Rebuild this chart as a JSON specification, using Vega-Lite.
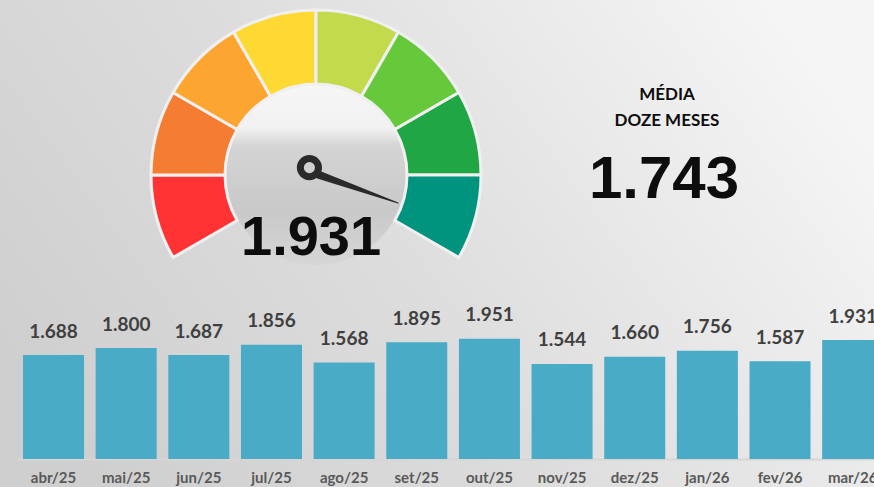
{
  "$schema": "https://vega.github.io/schema/vega-lite/v6.json",
  "width": 874,
  "height": 487,
  "padding": 0,
  "autosize": {"type": "none"},
  "background": "#ececec",
  "view": {
    "stroke": null,
    "fill": {
      "gradient": "linear",
      "x1": 0, "y1": 0.7, "x2": 1, "y2": 0.3,
      "stops": [
        {"offset": 0, "color": "#cfcfcf"},
        {"offset": 0.45, "color": "#dddddd"},
        {"offset": 1, "color": "#f5f5f5"}
      ]
    }
  },
  "config": {
    "locale": {"number": {"decimal": ",", "thousands": ".", "grouping": [3], "currency": ["R$ ", ""]}}
  },
  "datasets": {
    "meses": [
      {"mes": "abr/25", "valor": 1688},
      {"mes": "mai/25", "valor": 1800},
      {"mes": "jun/25", "valor": 1687},
      {"mes": "jul/25", "valor": 1856},
      {"mes": "ago/25", "valor": 1568},
      {"mes": "set/25", "valor": 1895},
      {"mes": "out/25", "valor": 1951},
      {"mes": "nov/25", "valor": 1544},
      {"mes": "dez/25", "valor": 1660},
      {"mes": "jan/26", "valor": 1756},
      {"mes": "fev/26", "valor": 1587},
      {"mes": "mar/26", "valor": 1931}
    ],
    "faixas": [
      {"faixa": 1, "de": 0, "ate": 1},
      {"faixa": 2, "de": 1, "ate": 2},
      {"faixa": 3, "de": 2, "ate": 3},
      {"faixa": 4, "de": 3, "ate": 4},
      {"faixa": 5, "de": 4, "ate": 5},
      {"faixa": 6, "de": 5, "ate": 6},
      {"faixa": 7, "de": 6, "ate": 7},
      {"faixa": 8, "de": 7, "ate": 8}
    ],
    "ponteiro": [
      {"p": "base", "gx": 0.02, "gy": 0.0},
      {"p": "ponta", "gx": 0.497, "gy": -0.17}
    ],
    "kpi": [
      {"indicador": "media", "valor": 1743}
    ]
  },
  "layer": [
    {
      "data": {"name": "meses"},
      "encoding": {
        "x": {
          "field": "mes", "type": "ordinal", "sort": null,
          "scale": {
            "domain": ["abr/25","mai/25","jun/25","jul/25","ago/25","set/25","out/25","nov/25","dez/25","jan/26","fev/26","mar/26"],
            "range": [17.2, 889], "paddingInner": 0.16, "paddingOuter": 0.08
          },
          "axis": {
            "orient": "bottom", "offset": -28, "title": null, "labelAngle": 0,
            "domainColor": "#d6d6d6", "domainWidth": 2, "ticks": false, "tickSize": 0,
            "labelPadding": 11, "labelFont": "Lato", "labelFontSize": 15, "labelFontWeight": "bold",
            "labelColor": "#595959", "grid": false
          }
        },
        "y": {
          "field": "valor", "type": "quantitative",
          "scale": {"domain": [0, 7451], "range": [459, 0], "nice": false, "zero": true},
          "axis": null
        }
      },
      "layer": [
        {"mark": {"type": "bar", "color": "#4AABC6"}},
        {
          "mark": {"type": "text", "baseline": "alphabetic", "align": "center", "dy": -17.5,
                   "font": "Lato", "fontSize": 19, "fontWeight": "bold", "color": "#404040"},
          "encoding": {"text": {"field": "valor", "type": "quantitative", "format": ","}}
        }
      ]
    },
    {
      "layer": [
        {
          "data": {"name": "kpi"},
          "mark": {
            "type": "arc", "theta": 0, "theta2": 6.2832, "outerRadius": 90, "innerRadius": 0,
            "color": {
              "gradient": "linear", "x1": 0.5, "y1": 0, "x2": 0.5, "y2": 1,
              "stops": [
                {"offset": 0, "color": "#f6f6f6"},
                {"offset": 0.24, "color": "#f1f1f1"},
                {"offset": 0.34, "color": "#d4d4d4"},
                {"offset": 0.7, "color": "#c9c9c9"},
                {"offset": 1, "color": "#d6d6d6"}
              ]
            }
          },
          "encoding": {
            "x": {"datum": 0, "type": "quantitative", "scale": {"domain": [-1.9152, 3.3818], "nice": false, "zero": false}, "axis": null},
            "y": {"datum": 0, "type": "quantitative", "scale": {"domain": [-1.8909, 1.0606], "nice": false, "zero": false}, "axis": null}
          }
        },
        {
          "data": {"name": "faixas"},
          "mark": {"type": "arc", "outerRadius": 165, "innerRadius": 91, "stroke": "#f0f0f0", "strokeWidth": 3},
          "encoding": {
            "x": {"datum": 0, "type": "quantitative", "scale": {"domain": [-1.9152, 3.3818], "nice": false, "zero": false}, "axis": null},
            "y": {"datum": 0, "type": "quantitative", "scale": {"domain": [-1.8909, 1.0606], "nice": false, "zero": false}, "axis": null},
            "theta": {"field": "de", "type": "quantitative", "scale": {"domain": [0, 8], "range": [-2.0944, 2.0944]}},
            "theta2": {"field": "ate"},
            "color": {
              "field": "faixa", "type": "ordinal", "legend": null,
              "scale": {"domain": [1,2,3,4,5,6,7,8],
                        "range": ["#FF3333","#F47D32","#FCA631","#FED833","#C4DA4D","#66C93C","#21A645","#00937E"]}
            }
          }
        },
        {
          "data": {"name": "ponteiro"},
          "mark": {"type": "trail", "color": "#2a2a2a"},
          "encoding": {
            "x": {"field": "gx", "type": "quantitative", "scale": {"domain": [-1.9152, 3.3818], "nice": false, "zero": false}, "axis": null},
            "y": {"field": "gy", "type": "quantitative", "scale": {"domain": [-1.8909, 1.0606], "nice": false, "zero": false}, "axis": null},
            "size": {"field": "p", "type": "ordinal", "scale": {"domain": ["base", "ponta"], "range": [8, 1]}, "legend": null}
          }
        },
        {
          "data": {"name": "kpi"},
          "mark": {"type": "point", "shape": "circle", "filled": false, "stroke": "#2a2a2a", "strokeWidth": 7, "size": 330, "opacity": 1},
          "encoding": {
            "x": {"datum": -0.04, "type": "quantitative", "scale": {"domain": [-1.9152, 3.3818], "nice": false, "zero": false}, "axis": null},
            "y": {"datum": 0.045, "type": "quantitative", "scale": {"domain": [-1.8909, 1.0606], "nice": false, "zero": false}, "axis": null}
          }
        },
        {
          "data": {"name": "meses"},
          "transform": [{"filter": "datum.mes === 'mar/26'"}],
          "mark": {"type": "text", "align": "center", "baseline": "alphabetic",
                   "font": "Liberation Sans", "fontSize": 56, "fontWeight": "bold", "color": "#0d0d0d"},
          "encoding": {
            "x": {"datum": -0.03, "type": "quantitative", "scale": {"domain": [-1.9152, 3.3818], "nice": false, "zero": false}, "axis": null},
            "y": {"datum": -0.485, "type": "quantitative", "scale": {"domain": [-1.8909, 1.0606], "nice": false, "zero": false}, "axis": null},
            "text": {"field": "valor", "type": "quantitative", "format": ","}
          }
        },
        {
          "data": {"name": "kpi"},
          "mark": {"type": "text", "align": "center", "baseline": "alphabetic", "lineHeight": 26,
                   "text": ["MÉDIA", "DOZE MESES"],
                   "font": "Lato", "fontSize": 17, "fontWeight": "bold", "color": "#0d0d0d"},
          "encoding": {
            "x": {"datum": 2.127, "type": "quantitative", "scale": {"domain": [-1.9152, 3.3818], "nice": false, "zero": false}, "axis": null},
            "y": {"datum": 0.4545, "type": "quantitative", "scale": {"domain": [-1.8909, 1.0606], "nice": false, "zero": false}, "axis": null}
          }
        },
        {
          "data": {"name": "kpi"},
          "mark": {"type": "text", "align": "center", "baseline": "alphabetic",
                   "font": "Liberation Sans", "fontSize": 60, "fontWeight": "bold", "color": "#0d0d0d"},
          "encoding": {
            "x": {"datum": 2.109, "type": "quantitative", "scale": {"domain": [-1.9152, 3.3818], "nice": false, "zero": false}, "axis": null},
            "y": {"datum": -0.139, "type": "quantitative", "scale": {"domain": [-1.8909, 1.0606], "nice": false, "zero": false}, "axis": null},
            "text": {"field": "valor", "type": "quantitative", "format": ","}
          }
        }
      ]
    }
  ],
  "resolve": {
    "scale": {"x": "independent", "y": "independent", "color": "independent", "size": "independent", "theta": "independent"},
    "axis": {"x": "independent", "y": "independent"}
  }
}
